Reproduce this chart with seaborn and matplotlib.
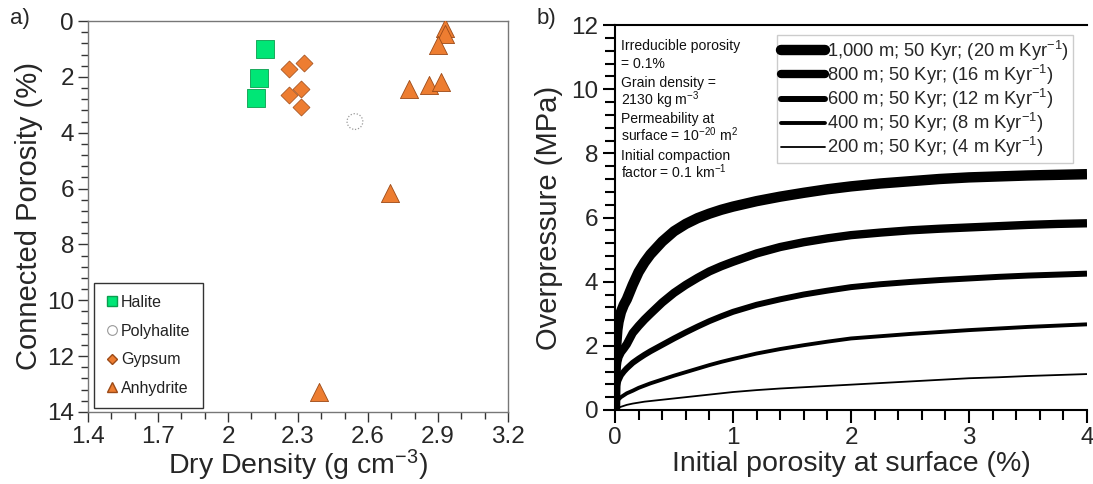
import numpy as np
import pandas as pd
import matplotlib
matplotlib.use("Agg")
import matplotlib.pyplot as plt
import seaborn as sns
from matplotlib.ticker import MultipleLocator, FixedLocator, FuncFormatter
from matplotlib.lines import Line2D

sns.set_theme(style="white")
plt.rcParams['font.family'] = ['Liberation Sans', 'DejaVu Sans']
plt.rcParams['mathtext.default'] = 'regular'

# ---------------- Panel a data ----------------
halite_density = [2.158, 2.131, 2.121]
halite_porosity = [1.00, 2.03, 2.75]
polyhalite_density = [2.544]
polyhalite_porosity = [3.60]
gypsum_density = [2.261, 2.325, 2.312, 2.261, 2.313]
gypsum_porosity = [1.71, 1.49, 2.45, 2.66, 3.09]
anhydrite_density = [2.931, 2.931, 2.898, 2.777, 2.863, 2.911, 2.696, 2.390]
anhydrite_porosity = [0.25, 0.45, 0.86, 2.45, 2.29, 2.17, 6.15, 13.27]
density_ticks = [1.4, 1.7, 2.0, 2.3, 2.6, 2.9, 3.2]

# ---------------- Panel b data ----------------
initial_porosity = [0, 0.005, 0.01, 0.02, 0.03, 0.05, 0.075, 0.1, 0.15, 0.2,
                    0.25, 0.3, 0.4, 0.5, 0.6, 0.7, 0.8, 0.9, 1.0, 1.2, 1.4,
                    1.6, 1.8, 2.0, 2.25, 2.5, 2.75, 3.0, 3.25, 3.5, 3.75, 4.0]
op_1000 = [0, 1.5, 2.0, 2.5, 2.75, 3.05, 3.28, 3.45, 3.9, 4.3, 4.6, 4.85,
           5.25, 5.57, 5.8, 5.98, 6.12, 6.24, 6.34, 6.51, 6.65, 6.77, 6.88,
           6.97, 7.06, 7.13, 7.2, 7.25, 7.28, 7.31, 7.33, 7.35]
op_800 = [0, 0.9, 1.2, 1.5, 1.65, 1.8, 1.92, 2.05, 2.4, 2.62, 2.82, 3.0,
          3.35, 3.65, 3.9, 4.12, 4.32, 4.48, 4.62, 4.88, 5.08, 5.23, 5.35,
          5.45, 5.53, 5.6, 5.65, 5.69, 5.73, 5.77, 5.8, 5.82]
op_600 = [0, 0.45, 0.6, 0.8, 0.92, 1.08, 1.2, 1.3, 1.47, 1.6, 1.72, 1.83,
          2.03, 2.23, 2.42, 2.6, 2.77, 2.92, 3.06, 3.28, 3.45, 3.6, 3.72,
          3.83, 3.92, 3.99, 4.05, 4.1, 4.15, 4.19, 4.22, 4.25]
op_400 = [0, 0.15, 0.2, 0.28, 0.33, 0.4, 0.46, 0.52, 0.6, 0.69, 0.76, 0.83,
          0.95, 1.07, 1.18, 1.29, 1.4, 1.5, 1.59, 1.76, 1.9, 2.02, 2.13,
          2.23, 2.3, 2.37, 2.43, 2.49, 2.54, 2.59, 2.63, 2.67]
op_200 = [0, 0.02, 0.03, 0.05, 0.07, 0.1, 0.13, 0.16, 0.2, 0.23, 0.26, 0.28,
          0.32, 0.36, 0.4, 0.44, 0.48, 0.52, 0.56, 0.62, 0.67, 0.71, 0.75,
          0.79, 0.84, 0.89, 0.94, 0.99, 1.02, 1.06, 1.09, 1.12]
series_labels = ['1,000 m; 50 Kyr; (20 m Kyr$^{-1}$)',
                 '800 m; 50 Kyr; (16 m Kyr$^{-1}$)',
                 '600 m; 50 Kyr; (12 m Kyr$^{-1}$)',
                 '400 m; 50 Kyr; (8 m Kyr$^{-1}$)',
                 '200 m; 50 Kyr; (4 m Kyr$^{-1}$)']

W, H = 1093, 484
fig = plt.figure(figsize=(W / 100, H / 100), dpi=100)

def px_axes(x0, y0, x1, y1):
    return fig.add_axes([x0 / W, 1 - y1 / H, (x1 - x0) / W, (y1 - y0) / H])

GREEN = '#00E676'
GREEN_E = '#0a9e4e'
ORANGE = '#ED7D31'
ORANGE_E = '#9c4a17'

# ---------------- Panel a ----------------
ax1 = px_axes(88, 21, 508, 412)
sns.scatterplot(x=halite_density, y=halite_porosity, marker='s', s=150,
                color=GREEN, edgecolor=GREEN_E, linewidth=0.6, ax=ax1, zorder=3)
ax1.scatter(polyhalite_density, polyhalite_porosity, marker='o', s=130,
            facecolor='none', edgecolor='#999999', linewidth=0.9,
            linestyle=(0, (1, 1.5)), zorder=3)
sns.scatterplot(x=gypsum_density, y=gypsum_porosity, marker='D', s=75,
                color=ORANGE, edgecolor=ORANGE_E, linewidth=0.5, ax=ax1, zorder=3)
sns.scatterplot(x=anhydrite_density, y=anhydrite_porosity, marker='^', s=170,
                color=ORANGE, edgecolor=ORANGE_E, linewidth=0.6, ax=ax1, zorder=3)
ax1.set_xlim(1.4, 3.2)
ax1.set_ylim(14, 0)
ax1.xaxis.set_major_locator(FixedLocator(density_ticks))
ax1.xaxis.set_minor_locator(MultipleLocator(0.1))
ax1.yaxis.set_major_locator(MultipleLocator(2))
ax1.yaxis.set_minor_locator(MultipleLocator(0.4))
ax1.xaxis.set_major_formatter(FuncFormatter(lambda v, p: f'{v:g}'))
ax1.tick_params(axis='both', which='major', direction='out', length=7,
                width=1, color='#333333', labelsize=17.5, pad=3,
                bottom=True, left=True)
ax1.tick_params(axis='both', which='minor', direction='out', length=5,
                width=1, color='#333333', bottom=True, left=True)
for sp in ax1.spines.values():
    sp.set_color('#777777')
    sp.set_linewidth(1.0)
ax1.set_xlabel('Dry Density (g cm$^{-3}$)', fontsize=20.5, labelpad=0)
ax1.set_ylabel('Connected Porosity (%)', fontsize=21, labelpad=3)

leg_handles = [
    Line2D([], [], marker='s', ls='none', color=GREEN, markeredgecolor=GREEN_E, markersize=7),
    Line2D([], [], marker='o', ls='none', markerfacecolor='none', markeredgecolor='#999999',
           markersize=7, markeredgewidth=0.8),
    Line2D([], [], marker='D', ls='none', color=ORANGE, markeredgecolor=ORANGE_E, markersize=5.5),
    Line2D([], [], marker='^', ls='none', color=ORANGE, markeredgecolor=ORANGE_E, markersize=7),
]
leg1 = ax1.legend(leg_handles, ['Halite', 'Polyhalite', 'Gypsum', 'Anhydrite'],
                  loc='upper left', bbox_to_anchor=(94 / W, 1 - 283 / H),
                  bbox_transform=fig.transFigure, borderaxespad=0,
                  fontsize=11.5, frameon=True, fancybox=False, handlelength=0.8,
                  handletextpad=0.15, labelspacing=0.85, borderpad=0.75,
                  edgecolor='#333333', framealpha=1)
leg1.get_frame().set_linewidth(1.0)
for t in leg1.get_texts():
    t.set_color('#222222')

# ---------------- Panel b ----------------
ax2 = px_axes(615, 25, 1087, 410)
curves = [op_1000, op_800, op_600, op_400, op_200]
widths = [7.5, 6.0, 4.3, 2.8, 1.3]
for vals, lw, lab in zip(curves, widths, series_labels):
    sns.lineplot(x=initial_porosity, y=vals, color='black', linewidth=lw,
                 ax=ax2, solid_capstyle='butt', solid_joinstyle='round',
                 label=lab, legend=False)
ax2.set_xlim(0, 4)
ax2.set_ylim(0, 12)
ax2.xaxis.set_major_locator(MultipleLocator(1))
ax2.xaxis.set_minor_locator(MultipleLocator(0.2))
ax2.yaxis.set_major_locator(MultipleLocator(2))
ax2.yaxis.set_minor_locator(MultipleLocator(0.4))
ax2.tick_params(axis='both', which='major', direction='out', length=9,
                width=1.5, color='black', labelsize=17.5, pad=3,
                bottom=True, left=True)
ax2.tick_params(axis='both', which='minor', direction='out', length=7,
                width=1.5, color='black', bottom=True, left=True)
ax2.spines['right'].set_visible(False)
for k in ['left', 'bottom', 'top']:
    ax2.spines[k].set_color('black')
    ax2.spines[k].set_linewidth(1.5)
ax2.set_xlabel('Initial porosity at surface (%)', fontsize=20.5, labelpad=2)
ax2.set_ylabel('Overpressure (MPa)', fontsize=21, labelpad=6)

note_lines = ['Irreducible porosity', '= 0.1%', 'Grain density =',
              '2130 kg m$^{-3}$', 'Permeability at',
              'surface = 10$^{-20}$ m$^{2}$', 'Initial compaction',
              'factor = 0.1 km$^{-1}$']
for i, line in enumerate(note_lines):
    fig.text(621 / W, 1 - (50 + 18.3 * i) / H, line, fontsize=10.1,
             va='baseline', ha='left', color='#111111')

leg_lines = [Line2D([], [], color='black', linewidth=lw, solid_capstyle='round')
             for lw in widths]
leg2 = ax2.legend(leg_lines, series_labels, loc='upper left',
                  bbox_to_anchor=(777 / W, 1 - 35 / H),
                  bbox_transform=fig.transFigure, borderaxespad=0,
                  fontsize=13.2, frameon=True, fancybox=False,
                  handlelength=2.4, handletextpad=0.12, labelspacing=0.0,
                  borderpad=0.2, edgecolor='#cccccc', framealpha=1)
leg2.get_frame().set_linewidth(1.0)

fig.text(10 / W, 1 - 8 / H, 'a)', fontsize=16, va='top', ha='left')
fig.text(537 / W, 1 - 8 / H, 'b)', fontsize=16, va='top', ha='left')

fig.savefig('out.png', dpi=100)
